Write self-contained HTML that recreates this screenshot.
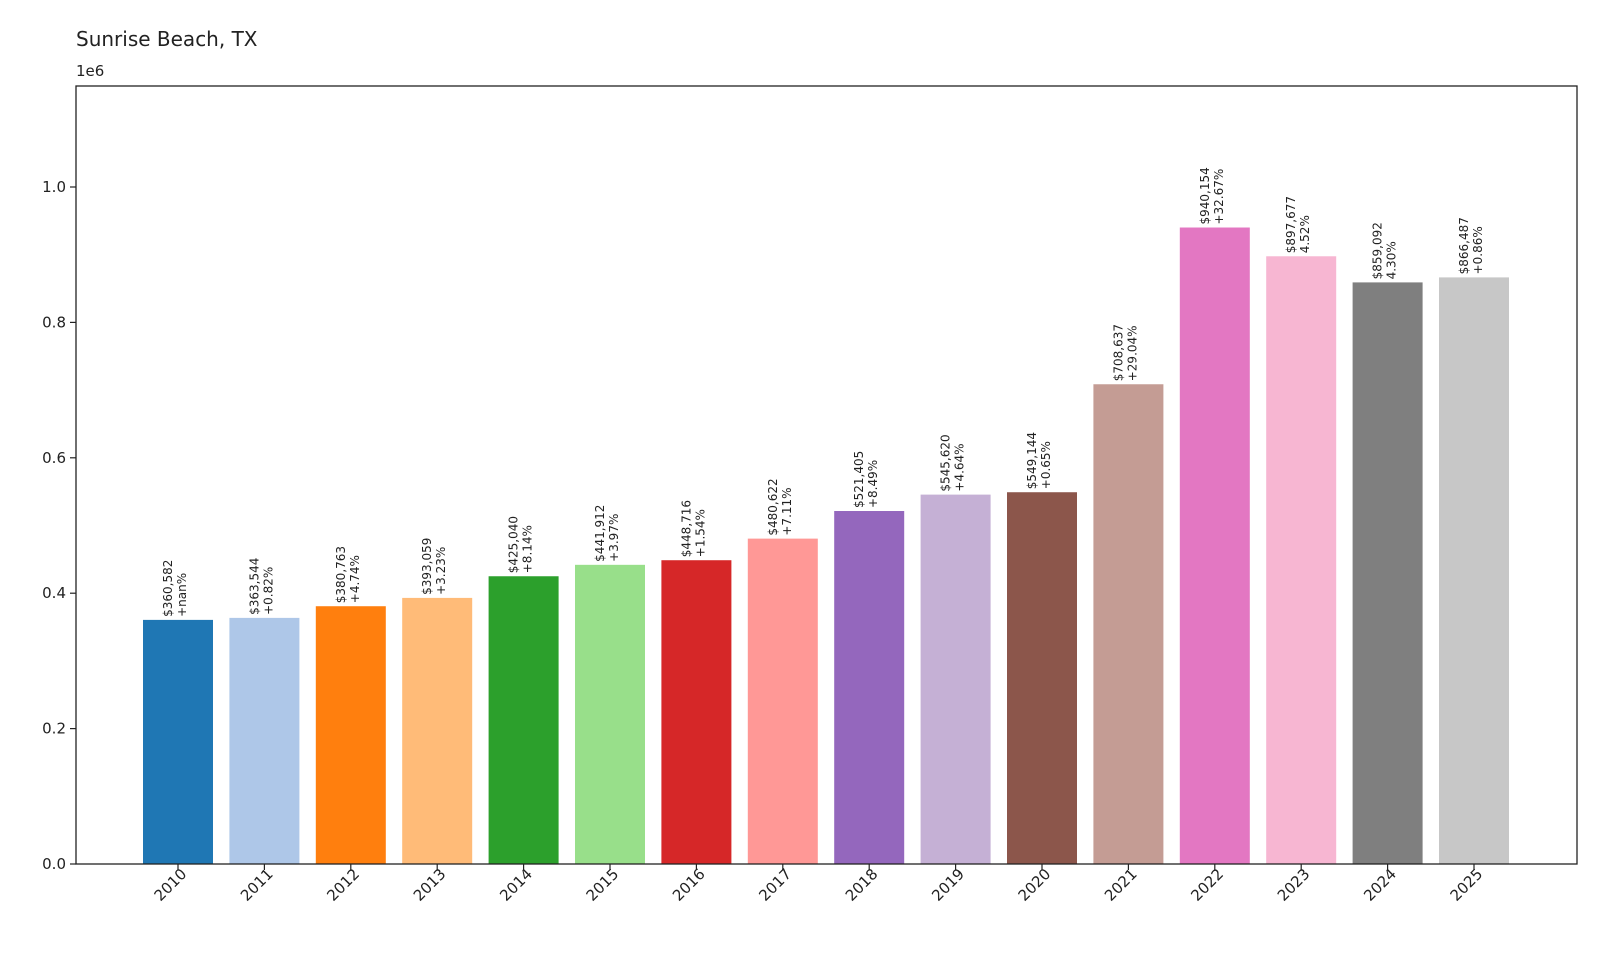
<!DOCTYPE html>
<html><head><meta charset="utf-8"><style>
body{margin:0;background:#fff}
svg{display:block;font-family:"DejaVu Sans","Liberation Sans",sans-serif}
</style></head><body>
<svg id="chart" width="1600" height="960">
<text x="76" y="46" font-size="20" fill="#222">Sunrise Beach, TX</text>
<text x="76" y="76" font-size="15" fill="#222">1e6</text>
<g id="plot"></g>
<rect x="76" y="86" width="1501" height="778" fill="none" stroke="#222" stroke-width="1.3"/>
</svg>
<script>
const years = ['2010','2011','2012','2013','2014','2015','2016','2017','2018','2019','2020','2021','2022','2023','2024','2025'];
const values = [360582,363544,380763,393059,425040,441912,448716,480622,521405,545620,549144,708637,940154,897677,859092,866487];
const changes = ['+nan%','+0.82%','+4.74%','+3.23%','+8.14%','+3.97%','+1.54%','+7.11%','+8.49%','+4.64%','+0.65%','+29.04%','+32.67%','4.52%','4.30%','+0.86%'];
const yTicks = [0,0.2,0.4,0.6,0.8,1.0];
const colors = ['#1f77b4','#aec7e8','#ff7f0e','#ffbb78','#2ca02c','#98df8a','#d62728','#ff9896','#9467bd','#c5b0d5','#8c564b','#c49c94','#e377c2','#f7b6d2','#7f7f7f','#c7c7c7'];
const NS='http://www.w3.org/2000/svg';
const g=document.getElementById('plot');
const x0=178, step=86.4, bw=70, yBase=864, pxPerM=677;
const xPos=i=>x0+i*step;
const yPos=v=>yBase-v/1e6*pxPerM;
function mk(t,a){const e=document.createElementNS(NS,t);for(const k in a)e.setAttribute(k,a[k]);g.appendChild(e);return e;}
yTicks.forEach(t=>{
  const y=yPos(t*1e6);
  const l=mk('line',{x1:70,x2:76,y1:y,y2:y,stroke:'#222','stroke-width':1.2});
  
  
  const tx=mk('text',{x:66,y:y+5,'font-size':15,'text-anchor':'end',fill:'#222'});
  tx.textContent=t.toFixed(1);
  
  
});
years.forEach((yr,i)=>{
  const cx=xPos(i), v=values[i], top=yPos(v);
  const r=mk('rect',{x:cx-bw/2,y:top,width:bw,height:yBase-top,fill:colors[i]});
  
  
  const t=mk('line',{x1:cx,x2:cx,y1:yBase,y2:yBase+6,stroke:'#222','stroke-width':1.2});
  
  
  const lab=mk('text',{x:cx,y:yBase+26,'font-size':15,'text-anchor':'middle',fill:'#222',transform:`rotate(-45 ${cx-4} ${yBase+30})`});
  lab.textContent=yr;
  
  
  const vl=mk('text',{'font-size':12,fill:'#222',transform:`translate(${cx-9},${top-3}) rotate(-90)`});
  
  
  const a=document.createElementNS(NS,'tspan');a.setAttribute('x',0);a.setAttribute('y',3);
  a.textContent='$'+v.toLocaleString('en-US');vl.appendChild(a);
  const b=document.createElementNS(NS,'tspan');b.setAttribute('x',0);b.setAttribute('y',17);
  b.textContent=changes[i];vl.appendChild(b);
});
</script>
</body></html>
